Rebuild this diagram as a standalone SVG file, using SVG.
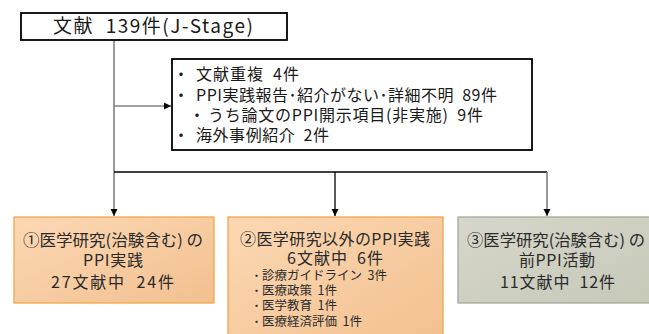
<svg xmlns="http://www.w3.org/2000/svg" width="649" height="334" viewBox="0 0 649 334">
<style>
text{font-family:"Noto Sans CJK JP","Noto Sans",sans-serif;fill:#2a2a2a}
.t18{font-size:19px;fill:#1a1a1a}
.t15{font-size:16px;fill:#1a1a1a}
.t16{font-size:16px}
.t12{font-size:12.5px}
.b12{font-size:11px}
.c{text-anchor:middle}
.ln{stroke:#000;stroke-width:1.3;fill:none}
.lg{stroke:#808080;stroke-width:1.6;fill:none}
</style>
<defs>
<linearGradient id="og" x1="0" y1="0" x2="1" y2="1">
<stop offset="0" stop-color="#fcd8b4"/><stop offset="1" stop-color="#f2c08f"/>
</linearGradient>
<linearGradient id="gg" x1="0" y1="0" x2="1" y2="1">
<stop offset="0" stop-color="#d6d7ca"/><stop offset="1" stop-color="#c6c8b8"/>
</linearGradient>
<marker id="ah" markerWidth="8" markerHeight="8" refX="7" refY="4" orient="auto" markerUnits="userSpaceOnUse">
<path d="M0,0.5 L7,4 L0,7.5 Z" fill="#000"/>
</marker>
</defs>
<g id="connectors">
<line class="lg" x1="114" y1="40" x2="114" y2="216" marker-end="url(#ah)"/>
<line class="lg" x1="114" y1="106" x2="171" y2="106" marker-end="url(#ah)"/>
<line class="ln" x1="114" y1="172" x2="547" y2="172"/>
<line class="ln" x1="335" y1="172" x2="335" y2="216" marker-end="url(#ah)"/>
<line class="lg" x1="547" y1="172" x2="547" y2="216" marker-end="url(#ah)"/>
</g>
<g id="top">
<rect x="21" y="13" width="266" height="27" fill="#fff" stroke="#000" stroke-width="1.8"/>
<text class="t18" x="53" y="33" textLength="200" lengthAdjust="spacing">文献&#160;&#160;139件(J-Stage)</text>
</g>
<g id="excluded">
<rect x="172" y="59" width="360" height="91" fill="#fff" stroke="#000" stroke-width="1.8"/>
<text class="t15 c" x="181" y="80">・</text>
<text class="t15" x="196" y="80" textLength="103" lengthAdjust="spacing">文献重複&#160;&#160;4件</text>
<text class="t15 c" x="181" y="101">・</text>
<text class="t15" x="196" y="101" textLength="301" lengthAdjust="spacing">PPI実践報告･紹介がない･詳細不明&#160;&#160;89件</text>
<text class="t15 c" x="197" y="121">・</text>
<text class="t15" x="208" y="121" textLength="275" lengthAdjust="spacing">うち論文のPPI開示項目(非実施)&#160;&#160;9件</text>
<text class="t15 c" x="181" y="141">・</text>
<text class="t15" x="196" y="141" textLength="133" lengthAdjust="spacing">海外事例紹介&#160;&#160;2件</text>
</g>
<g id="n1">
<rect x="14" y="217" width="200" height="86" fill="url(#og)" stroke="#f0a848" stroke-width="1.3"/>
<text class="t16" x="23" y="245.5" textLength="180" lengthAdjust="spacingAndGlyphs">①医学研究(治験含む) の</text>
<text class="t16" x="83" y="265.5" textLength="60" lengthAdjust="spacing">PPI実践</text>
<text class="t16" x="51" y="287.5" textLength="123" lengthAdjust="spacing">27文献中&#160;&#160;24件</text>
</g>
<g id="n2">
<rect x="228" y="217" width="215" height="125" fill="url(#og)" stroke="#f0a848" stroke-width="1.3"/>
<text class="t16" x="240" y="244.5" textLength="190" lengthAdjust="spacing">②医学研究以外のPPI実践</text>
<text class="t16" x="287" y="263.5" textLength="96" lengthAdjust="spacing">6文献中&#160;&#160;6件</text>
<text class="b12 c" x="256.5" y="280">・</text>
<text class="t12" x="262" y="280">診療ガイドライン&#160;&#160;3件</text>
<text class="b12 c" x="256.5" y="295">・</text>
<text class="t12" x="262" y="295">医療政策&#160;&#160;1件</text>
<text class="b12 c" x="256.5" y="310">・</text>
<text class="t12" x="262" y="310">医学教育&#160;&#160;1件</text>
<text class="b12 c" x="256.5" y="326">・</text>
<text class="t12" x="262" y="326">医療経済評価&#160;&#160;1件</text>
</g>
<g id="n3">
<rect x="458" y="217" width="200" height="86" fill="url(#gg)" stroke="#a6a898" stroke-width="1.3"/>
<text class="t16" x="467" y="245.5" textLength="178" lengthAdjust="spacingAndGlyphs">③医学研究(治験含む) の</text>
<text class="t16" x="519" y="265.5" textLength="76" lengthAdjust="spacing">前PPI活動</text>
<text class="t16" x="500" y="287.5" textLength="115" lengthAdjust="spacing">11文献中&#160;&#160;12件</text>
</g>
</svg>
